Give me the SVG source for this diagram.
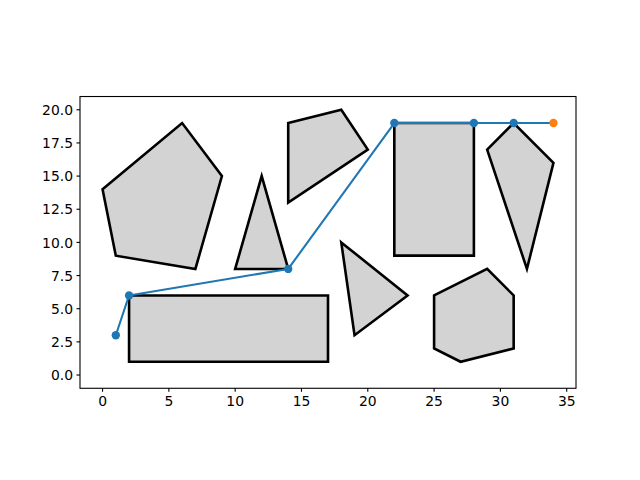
<svg xmlns="http://www.w3.org/2000/svg" width="640" height="480" viewBox="0 0 640 480">
<style>
.poly{fill:#d3d3d3;stroke:#000;stroke-width:2.6;stroke-linejoin:miter}
.tick{stroke:#000;stroke-width:1.1}
.lbl{font-family:"DejaVu Sans",sans-serif;font-size:13.9px;fill:#000}
.xl{text-anchor:middle}
.yl{text-anchor:end}
.pt{fill:#1f77b4}
</style>
<rect width="640" height="480" fill="#fff"/>
<g id="nodes">
<g id="pentagon"><polygon class="poly" points="102.55,189.35 182.12,123.04 221.91,176.09 195.38,268.93 115.81,255.66"/></g>
<g id="triangle1"><polygon class="poly" points="235.17,268.93 261.69,176.09 288.22,268.93"/></g>
<g id="quad"><polygon class="poly" points="288.22,202.61 288.22,123.04 341.27,109.78 367.79,149.57"/></g>
<g id="rect1"><polygon class="poly" points="394.31,255.66 394.31,123.04 473.89,123.04 473.89,255.66"/></g>
<g id="kite"><polygon class="poly" points="487.15,149.57 513.67,123.04 553.46,162.83 526.93,268.93"/></g>
<g id="triangle2"><polygon class="poly" points="341.27,242.40 407.58,295.45 354.53,335.23"/></g>
<g id="hexagon"><polygon class="poly" points="434.10,295.45 487.15,268.93 513.67,295.45 513.67,348.50 460.62,361.76 434.10,348.50"/></g>
<g id="rect2"><polygon class="poly" points="129.07,361.76 129.07,295.45 328.00,295.45 328.00,361.76"/></g>
</g>
<g id="connectors">
<polyline points="115.81,335.23 129.07,295.45 288.22,268.93 394.31,123.04 473.89,123.04 513.67,123.04 553.46,123.04" fill="none" stroke="#1f77b4" stroke-width="2.08" stroke-linejoin="round" stroke-linecap="square"/>
<circle class="pt" cx="115.81" cy="335.23" r="4.17"/>
<circle class="pt" cx="129.07" cy="295.45" r="4.17"/>
<circle class="pt" cx="288.22" cy="268.93" r="4.17"/>
<circle class="pt" cx="394.31" cy="123.04" r="4.17"/>
<circle class="pt" cx="473.89" cy="123.04" r="4.17"/>
<circle class="pt" cx="513.67" cy="123.04" r="4.17"/>
<circle cx="553.46" cy="123.04" r="4.17" fill="#ff7f0e"/>
</g>
<g id="axes">
<rect x="80" y="96.52" width="496" height="291.76" fill="none" stroke="#000" stroke-width="1.1"/>
<g class="tick">
<line x1="102.55" y1="388.28" x2="102.55" y2="391.8"/>
<line x1="168.86" y1="388.28" x2="168.86" y2="391.8"/>
<line x1="235.17" y1="388.28" x2="235.17" y2="391.8"/>
<line x1="301.48" y1="388.28" x2="301.48" y2="391.8"/>
<line x1="367.79" y1="388.28" x2="367.79" y2="391.8"/>
<line x1="434.10" y1="388.28" x2="434.10" y2="391.8"/>
<line x1="500.41" y1="388.28" x2="500.41" y2="391.8"/>
<line x1="566.72" y1="388.28" x2="566.72" y2="391.8"/>
<line x1="80" y1="375.02" x2="76.5" y2="375.02"/>
<line x1="80" y1="341.87" x2="76.5" y2="341.87"/>
<line x1="80" y1="308.71" x2="76.5" y2="308.71"/>
<line x1="80" y1="275.56" x2="76.5" y2="275.56"/>
<line x1="80" y1="242.40" x2="76.5" y2="242.40"/>
<line x1="80" y1="209.25" x2="76.5" y2="209.25"/>
<line x1="80" y1="176.09" x2="76.5" y2="176.09"/>
<line x1="80" y1="142.94" x2="76.5" y2="142.94"/>
<line x1="80" y1="109.78" x2="76.5" y2="109.78"/>
</g>
<g class="lbl xl">
<text x="102.55" y="405.6">0</text>
<text x="168.86" y="405.6">5</text>
<text x="235.17" y="405.6">10</text>
<text x="301.48" y="405.6">15</text>
<text x="367.79" y="405.6">20</text>
<text x="434.10" y="405.6">25</text>
<text x="500.41" y="405.6">30</text>
<text x="566.72" y="405.6">35</text>
</g>
<g class="lbl yl">
<text x="73" y="380.1">0.0</text>
<text x="73" y="346.9">2.5</text>
<text x="73" y="313.8">5.0</text>
<text x="73" y="280.6">7.5</text>
<text x="73" y="247.5">10.0</text>
<text x="73" y="214.3">12.5</text>
<text x="73" y="181.2">15.0</text>
<text x="73" y="148.0">17.5</text>
<text x="73" y="114.9">20.0</text>
</g>
</g>
</svg>
